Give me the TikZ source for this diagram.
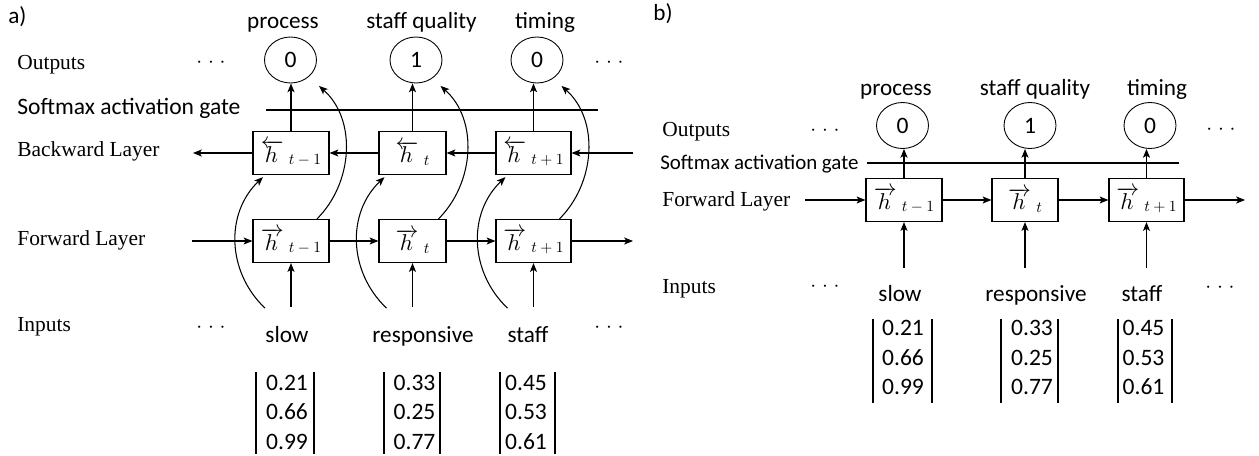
\RequirePackage{fix-cm}
\documentclass[tikz,border=0pt]{standalone}
\usepackage{graphicx}
\usepackage{fontspec}
\setmainfont{Liberation Serif}
\newfontfamily\calib{Carlito}
\usetikzlibrary{arrows.meta,shapes.geometric,calc}
\newcommand{\hv}[3]{\resizebox{!}{0.44cm}{$#1{\mkern1mu h\mkern2mu}$}\hspace{3pt}\raisebox{-1.2pt}{\resizebox{!}{#3}{$#2$}}}
\begin{document}
\begin{tikzpicture}[x=0.02cm,y=-0.02cm,
  lab/.style={font=\fontsize{12.2}{14}\selectfont, anchor=base west, inner sep=0},
  sans/.style={font=\calib\fontsize{13.2}{16}\selectfont, anchor=base, inner sep=0},
  num/.style={font=\calib\fontsize{13.4}{16}\selectfont, anchor=base, inner sep=0},
  hbox/.style={draw, line width=0.7pt, minimum height=0.86cm, inner sep=0},
  outc/.style={draw, ellipse, line width=0.5pt, minimum width=1.04cm, minimum height=0.92cm, inner sep=0, font=\calib\fontsize{13.4}{16}\selectfont},
  arr/.style={line width=0.6pt, -{Stealth[length=5pt,width=4pt,inset=1.2pt]}},
  ln/.style={line width=0.6pt},
  dotsn/.style={anchor=base, inner sep=0, font=\fontsize{12}{14}\selectfont}]
\useasboundingbox (0,0) rectangle (1259,456);

% ================= panel a =================
\node[font=\calib\fontsize{13.2}{16}\selectfont, anchor=base west, inner sep=0] (alab) at (8,24) {a)};
\node[lab] (aOut) at (17,70) {Outputs};
\node[font=\calib\fontsize{13.4}{16}\selectfont, anchor=base west, inner sep=0] (aSoft) at (17,115) {Softmax activation gate};
\node[lab] (aBack) at (17,157) {Backward Layer};
\node[lab] (aFwd) at (17,246) {Forward Layer};
\node[lab] (aIn) at (17,332) {Inputs};

\node[dotsn] (adot1) at (211,68) {${\cdot}\;{\cdot}\;{\cdot}$};
\node[dotsn] (adot2) at (609,68) {${\cdot}\;{\cdot}\;{\cdot}$};
\node[dotsn] (adot3) at (211,333) {${\cdot}\;{\cdot}\;{\cdot}$};
\node[dotsn] (adot4) at (609,333) {${\cdot}\;{\cdot}\;{\cdot}$};

% output labels and circles
\node[sans] (aL1) at (283,29) {process};
\node[sans] (aL2) at (421.5,29) {staff quality};
\node[sans] (aL3) at (545,29) {timing};
\node[outc] (ao1) at (290.5,60) {0};
\node[outc] (ao2) at (416,60) {1};
\node[outc] (ao3) at (537,60) {0};

% backward boxes
\node[hbox, minimum width=1.52cm] (ab1) at (291,153) {\hv{\overleftarrow}{t-1}{0.2cm}};
\node[hbox, minimum width=1.34cm] (ab2) at (412.5,153) {\hv{\overleftarrow}{t}{0.19cm}};
\node[hbox, minimum width=1.50cm] (ab3) at (533.5,153) {\hv{\overleftarrow}{t+1}{0.2cm}};
% forward boxes
\node[hbox, minimum width=1.52cm] (af1) at (291,241) {\hv{\overrightarrow}{t-1}{0.2cm}};
\node[hbox, minimum width=1.34cm] (af2) at (412.5,241) {\hv{\overrightarrow}{t}{0.19cm}};
\node[hbox, minimum width=1.50cm] (af3) at (533.5,241) {\hv{\overrightarrow}{t+1}{0.2cm}};

% softmax line
\coordinate (asm1) at (266,110);
\coordinate (asm2) at (598,110);
\draw[ln] (asm1) -- (asm2);

% layer arrows
\coordinate (afin) at (192,241);
\coordinate (afout) at (633,241);
\coordinate (abin) at (633,153);
\coordinate (about) at (193,153);
\draw[arr] (afin) -- (af1.west);
\draw[arr] (af1.east) -- (af2.west);
\draw[arr] (af2.east) -- (af3.west);
\draw[arr] (af3.east) -- (afout);
\draw[arr] (abin) -- (ab3.east);
\draw[arr] (ab3.west) -- (ab2.east);
\draw[arr] (ab2.west) -- (ab1.east);
\draw[arr] (ab1.west) -- (about);

% words and vectors
\node[sans] (aw1) at (287,342) {slow};
\node[sans] (aw2) at (423,342) {responsive};
\node[sans] (aw3) at (528,342) {staff};
\foreach \x/\p/\q/\r [count=\i] in {287/0.21/0.66/0.99, 414.5/0.33/0.25/0.77, 526/0.45/0.53/0.61}{
  \node[num] (ava\i) at (\x,390) {\p};
  \node[num] (avb\i) at (\x,419.5) {\q};
  \node[num] (avc\i) at (\x,449) {\r};
}
\foreach \x in {256,314,384,440,500,555}{
  \draw[ln] (\x,372) -- (\x,454);
}

% inputs and output arrows
\foreach \i/\x in {1/291,2/412.5,3/533.5}{
  \coordinate (ain\i) at (\x,307);
  \draw[arr] (ain\i) -- (af\i.south);
  \draw[arr] (ab\i.north) -- (ab\i.north |- ao\i.south);
  \coordinate (acs\i) at ($(ab\i.south)+(-26,133)$);
  \draw[arr] (acs\i) .. controls +(-38,-36) and +(-38,36) .. ($(ab\i.south)+(-28,2)$);
  \draw[arr] ($(af\i.north)+(26,0)$) .. controls +(36,-36) and +(38,34) .. ($(ab\i.north)+(28,-45)$);
}

% ================= panel b =================
\node[font=\calib\fontsize{13.2}{16}\selectfont, anchor=base west, inner sep=0] (blab) at (653,21) {b)};
\node[lab] (bOut) at (662,137) {Outputs};
\node[font=\calib\fontsize{11.9}{14}\selectfont, anchor=base west, inner sep=0] (bSoft) at (660,170) {Softmax activation gate};
\node[lab] (bFwd) at (662,207) {Forward Layer};
\node[lab] (bIn) at (662,294) {Inputs};

\node[dotsn] (bdot1) at (825,136) {${\cdot}\;{\cdot}\;{\cdot}$};
\node[dotsn] (bdot2) at (1221,135) {${\cdot}\;{\cdot}\;{\cdot}$};
\node[dotsn] (bdot3) at (825,292) {${\cdot}\;{\cdot}\;{\cdot}$};
\node[dotsn] (bdot4) at (1220,293) {${\cdot}\;{\cdot}\;{\cdot}$};

\node[sans] (bL1) at (896,95.5) {process};
\node[sans] (bL2) at (1035,95.5) {staff quality};
\node[sans] (bL3) at (1157,95.5) {timing};
\node[outc] (bo1) at (902.5,125.5) {0};
\node[outc] (bo2) at (1030,125.5) {1};
\node[outc] (bo3) at (1150,125.5) {0};

\node[hbox, minimum width=1.52cm] (bf1) at (904,200) {\hv{\overrightarrow}{t-1}{0.2cm}};
\node[hbox, minimum width=1.32cm] (bf2) at (1025,200) {\hv{\overrightarrow}{t}{0.19cm}};
\node[hbox, minimum width=1.50cm] (bf3) at (1146.5,200) {\hv{\overrightarrow}{t+1}{0.2cm}};

\coordinate (bsm1) at (867,163);
\coordinate (bsm2) at (1179,163);
\draw[ln] (bsm1) -- (bsm2);

\coordinate (bfin) at (805,200);
\coordinate (bfout) at (1245,200);
\draw[arr] (bfin) -- (bf1.west);
\draw[arr] (bf1.east) -- (bf2.west);
\draw[arr] (bf2.east) -- (bf3.west);
\draw[arr] (bf3.east) -- (bfout);

\node[sans] (bw1) at (900,301) {slow};
\node[sans] (bw2) at (1036,301) {responsive};
\node[sans] (bw3) at (1142,301) {staff};
\foreach \x/\p/\q/\r [count=\i] in {903/0.21/0.66/0.99, 1032/0.33/0.25/0.77, 1143.5/0.45/0.53/0.61}{
  \node[num] (bva\i) at (\x,336) {\p};
  \node[num] (bvb\i) at (\x,365) {\q};
  \node[num] (bvc\i) at (\x,394) {\r};
}
\foreach \x in {873,932,1001,1058,1118,1172}{
  \draw[ln] (\x,319) -- (\x,403);
}
\foreach \i/\x in {1/904,2/1025,3/1146.5}{
  \coordinate (bin\i) at (\x,268);
  \draw[arr] (bin\i) -- (bf\i.south);
  \draw[arr] (bf\i.north) -- (bf\i.north |- bo\i.south);
}
\end{tikzpicture}
\end{document}
